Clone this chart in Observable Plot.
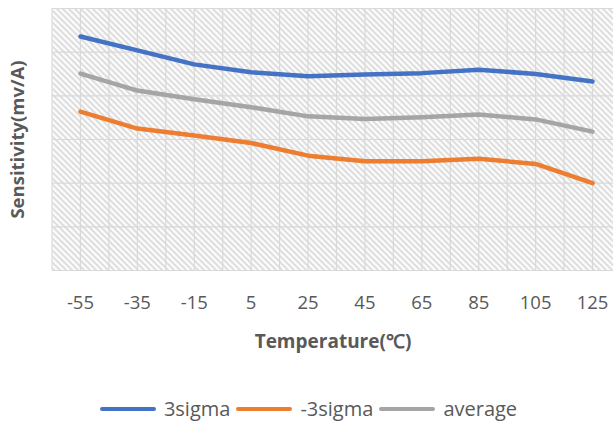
<!DOCTYPE html>
<html>
<head>
<meta charset="utf-8">
<script src="https://cdn.jsdelivr.net/npm/d3@7"></script>
<script src="https://cdn.jsdelivr.net/npm/@observablehq/plot@0.6"></script>
<style>
  html, body { margin: 0; padding: 0; background: #fff; overflow: hidden; }
  #chart svg { display: block; overflow: visible; }
  .legend { display: flex; justify-content: center; align-items: center; font-family: "Open Sans", sans-serif; font-size: 20px; color: #595959; margin-top: 27px; margin-left: 4px; }
  .legend .item { display: flex; align-items: center; margin: 0 3px; }
  .legend .sw { width: 56px; height: 4px; margin-right: 8px; border-radius: 2px; }
</style>
</head>
<body>
<div id="chart"></div>
<script>
const temps = [-55, -35, -15, 5, 25, 45, 65, 85, 105, 125];
const sigmaPlus = [53.6, 50.4, 47.2, 45.4, 44.5, 44.9, 45.2, 46.0, 45.0, 43.3];
const sigmaMinus = [36.4, 32.5, 30.9, 29.2, 26.3, 25.0, 25.0, 25.6, 24.4, 20.0];
const average = [45.1, 41.2, 39.2, 37.4, 35.3, 34.7, 35.1, 35.7, 34.6, 31.8];
const seriesNames = ["3sigma", "-3sigma", "average"];
const seriesColors = ["#4472C4", "#ED7D31", "#A5A5A5"];
const yGrid = [0, 10, 20, 30, 40, 50, 60];
const xGrid = [-65, -55, -45, -35, -25, -15, -5, 5, 15, 25, 35, 45, 55, 65, 75, 85, 95, 105, 115, 125, 135];

const seriesValues = [sigmaPlus, sigmaMinus, average];
const rows = [];
seriesNames.forEach((name, s) => temps.forEach((t, i) => rows.push({series: name, t, v: seriesValues[s][i]})));

const chart = Plot.plot({
  width: 613,
  height: 368,
  marginLeft: 52,
  marginRight: 0,
  marginTop: 8,
  marginBottom: 98,
  style: {fontFamily: "Open Sans, sans-serif", color: "#595959", background: "transparent"},
  x: {domain: [-65, 135], range: [51.5, 620.5], axis: null},
  y: {domain: [0, 60], range: [270, 8], axis: null},
  color: {domain: seriesNames, range: seriesColors},
  marks: [
    Plot.frame({fill: "url(#hatch)", stroke: null}),
    Plot.ruleX(xGrid, {stroke: "#d9d9d9", strokeWidth: 1.2}),
    Plot.ruleY(yGrid, {stroke: "#d9d9d9", strokeWidth: 1.2}),
    Plot.axisX({ticks: temps, tickSize: 0, tickPadding: 25, fontSize: 18.5, label: null, tickFormat: d => String(d)}),
    Plot.line(rows, {x: "t", y: "v", z: "series", stroke: "series", strokeWidth: 4.5, strokeLinecap: "round", strokeLinejoin: "round"}),
    Plot.text(["Temperature(℃)"], {frameAnchor: "bottom", dy: 77, fontSize: 19, fontWeight: "bold", fill: "#595959"}),
    Plot.text(["Sensitivity(mv/A)"], {frameAnchor: "left", dx: -34, rotate: -90, textAnchor: "middle", fontSize: 18.5, fontWeight: "bold", fill: "#595959"})
  ]
});

// hatch pattern definition
const ns = "http://www.w3.org/2000/svg";
const defs = document.createElementNS(ns, "defs");
const pat = document.createElementNS(ns, "pattern");
pat.setAttribute("id", "hatch");
pat.setAttribute("patternUnits", "userSpaceOnUse");
pat.setAttribute("width", "6");
pat.setAttribute("height", "6");
const bg = document.createElementNS(ns, "rect");
bg.setAttribute("width", "6"); bg.setAttribute("height", "6"); bg.setAttribute("fill", "#ffffff");
pat.appendChild(bg);
const p = document.createElementNS(ns, "path");
p.setAttribute("d", "M0,0 L6,6 M-1,5 L1,7 M5,-1 L7,1");
p.setAttribute("stroke", "#d6d6d6");
p.setAttribute("stroke-width", "1.8");
pat.appendChild(p);
defs.appendChild(pat);
chart.insertBefore(defs, chart.firstChild);

document.getElementById("chart").appendChild(chart);

const legend = document.createElement("div");
legend.className = "legend";
seriesNames.forEach((name, i) => {
  const item = document.createElement("div");
  item.className = "item";
  const sw = document.createElement("span");
  sw.className = "sw";
  sw.style.background = seriesColors[i];
  const label = document.createElement("span");
  label.textContent = name;
  item.appendChild(sw);
  item.appendChild(label);
  legend.appendChild(item);
});
document.getElementById("chart").appendChild(legend);
</script>
</body>
</html>
